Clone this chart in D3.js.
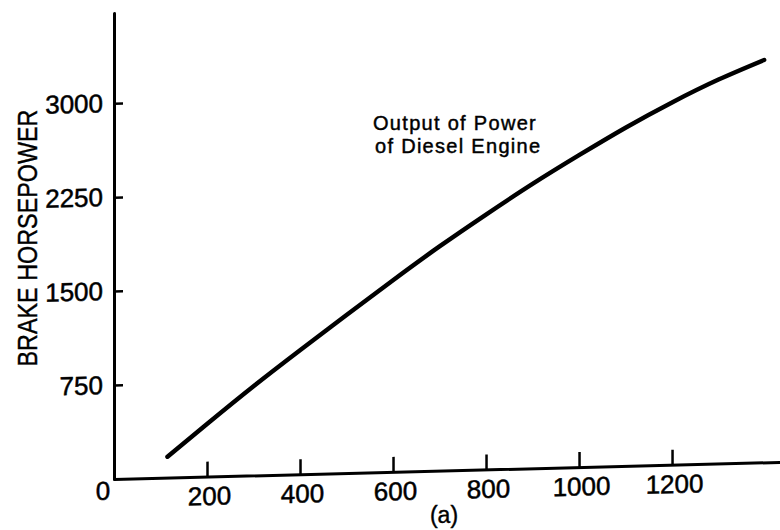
<!DOCTYPE html>
<html>
<head>
<meta charset="utf-8">
<script src="https://cdn.jsdelivr.net/npm/d3@7"></script>
<style>
  html, body { margin: 0; padding: 0; background: #fff; }
  svg { display: block; }
</style>
</head>
<body>
<script>
// ---- data ----
const rpm = [115, 200, 300, 400, 500, 600, 700, 800, 900, 1000, 1100, 1200, 1300, 1398];
const bhp = [167, 420, 712, 990, 1262, 1530, 1790, 2035, 2270, 2490, 2700, 2892, 3065, 3212];
const xTicks = [200, 400, 600, 800, 1000, 1200];
const yTicks = [750, 1500, 2250, 3000];
const yTitle = "BRAKE HORSEPOWER";
const curveLabel = ["Output of Power", "of Diesel Engine"];
const caption = "(a)";

const W = 780, H = 530;
const FONT = "Liberation Sans, Arial, sans-serif";
const svg = d3.select("body").append("svg").attr("width", W).attr("height", H);

// plot frame (origin at the axis corner; the scanned x-axis is slightly tilted)
const g = svg.append("g").attr("transform", "matrix(1,-0.0256,0,1,114,479)");

const x = d3.scaleLinear().domain([0, 1430]).range([0, 665]);
const y = d3.scaleLinear().domain([0, 3720]).range([0, -466]);

const xAxis = g.append("g")
  .call(d3.axisBottom(x).tickValues(xTicks).tickSize(-15).tickSizeOuter(0).tickPadding(10).tickFormat(d3.format("d")));
const yAxis = g.append("g")
  .call(d3.axisLeft(y).tickValues(yTicks).tickSize(-9).tickSizeOuter(0).tickPadding(11).tickFormat(d3.format("d")));

[xAxis, yAxis].forEach(a => {
  a.attr("font-family", FONT).attr("font-size", 26);
  a.select(".domain").attr("stroke", "#000").attr("stroke-width", 3).attr("stroke-linecap", "round");
  a.selectAll(".tick line").attr("stroke", "#000").attr("stroke-width", 2.5);
  a.selectAll(".tick text").attr("fill", "#000").attr("stroke", "#000").attr("stroke-width", 0.5);
});
xAxis.selectAll(".tick text").attr("dx", "2");

// origin label
g.append("text")
  .attr("x", -11).attr("y", 2).attr("dy", "0.71em")
  .attr("text-anchor", "middle")
  .attr("font-family", FONT).attr("font-size", 26)
  .attr("stroke", "#000").attr("stroke-width", 0.5)
  .text("0");

// curve
const pts = rpm.map((r, i) => [r, bhp[i]]);
g.append("path")
  .datum(pts)
  .attr("fill", "none")
  .attr("stroke", "#000")
  .attr("stroke-width", 4.5)
  .attr("stroke-linecap", "round")
  .attr("d", d3.line().x(d => x(d[0])).y(d => y(d[1])).curve(d3.curveNatural));

// y axis title
svg.append("text")
  .attr("transform", "translate(37,238) rotate(-90)")
  .attr("text-anchor", "middle")
  .attr("font-family", FONT)
  .attr("font-size", 27)
  .attr("textLength", 257)
  .attr("lengthAdjust", "spacingAndGlyphs")
  .attr("stroke", "#000").attr("stroke-width", 0.4)
  .text(yTitle);

// curve annotation
const ann = svg.append("text")
  .attr("font-family", FONT)
  .attr("font-size", 20)
  .attr("letter-spacing", 1.3)
  .attr("stroke", "#000").attr("stroke-width", 0.45);
ann.selectAll("tspan").data(curveLabel).join("tspan")
  .attr("x", (d, i) => i === 0 ? 373 : 375)
  .attr("y", (d, i) => i === 0 ? 130 : 153)
  .text(d => d);

// caption
svg.append("text")
  .attr("x", 444).attr("y", 523)
  .attr("text-anchor", "middle")
  .attr("font-family", FONT)
  .attr("font-size", 23)
  .attr("stroke", "#000").attr("stroke-width", 0.4)
  .text(caption);
</script>
</body>
</html>
